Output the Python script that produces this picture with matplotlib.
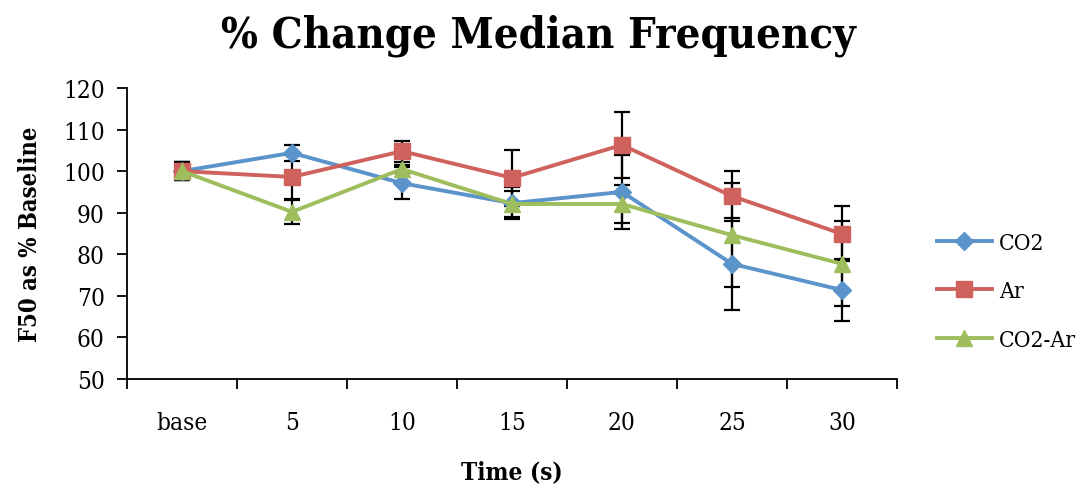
import matplotlib
matplotlib.use("Agg")
import matplotlib.pyplot as plt
import numpy as np

categories = ["base", "5", "10", "15", "20", "25", "30"]
co2 = [100.0, 104.4, 97.1, 92.3, 95.0, 77.7, 71.4]
co2_err = [2.2, 1.9, 3.8, 3.8, 8.9, 11.1, 7.4]
ar = [100.0, 98.6, 104.8, 98.4, 106.3, 94.0, 84.9]
ar_err = [2.2, 5.2, 2.5, 6.8, 7.9, 6.1, 6.6]
co2ar = [100.0, 90.2, 100.5, 92.1, 92.1, 84.6, 77.7]
co2ar_err = [2.2, 2.8, 1.0, 3.2, 4.6, 12.5, 10.2]
series_names = ["CO2", "Ar", "CO2-Ar"]
yticks = [50, 60, 70, 80, 90, 100, 110, 120]

serif = ["DejaVu Serif"]
cond = "condensed"
fig = plt.figure(figsize=(10.88, 4.89), dpi=100)
ax = fig.add_axes([0.1167, 0.2229, 0.7077, 0.5951])

x = np.arange(len(categories))
colors = ["#5B93CB", "#CF625D", "#9EBE5D"]
markers = ["D", "s", "^"]
msizes = [9, 12, 12]
data = [(co2, co2_err), (ar, ar_err), (co2ar, co2ar_err)]
for (vals, err), c, m, ms, name in zip(data, colors, markers, msizes, series_names):
    ax.errorbar(x, vals, yerr=err, fmt="none", ecolor="black", elinewidth=1.6,
                capsize=5.5, capthick=1.6, zorder=2)
    ax.plot(x, vals, color=c, lw=2.8, marker=m, ms=ms, mec=c, mfc=c, label=name, zorder=3)

ax.set_xlim(-0.5, len(categories) - 0.5)
ax.set_ylim(50, 120)
ax.set_yticks(yticks)
ax.set_yticklabels([str(t) for t in yticks], fontfamily=serif, fontstretch=cond, fontsize=17.5)
ax.set_xticks(np.arange(len(categories) + 1) - 0.5)
ax.set_xticklabels([])
ax.set_xticks(x, minor=True)
ax.set_xticklabels(categories, minor=True, fontfamily=serif, fontstretch=cond, fontsize=17.5)
ax.tick_params(axis="x", which="minor", length=0, pad=23)
ax.tick_params(axis="x", which="major", length=7, width=1.3, direction="out")
ax.tick_params(axis="y", which="major", length=7, width=1.3, direction="out", pad=9)
for s in ["top", "right"]:
    ax.spines[s].set_visible(False)
for s in ["left", "bottom"]:
    ax.spines[s].set_linewidth(1.3)

fig.text(0.4945, 0.927, "% Change Median Frequency", ha="center", va="center",
         fontfamily=serif, fontstretch=cond, fontweight="bold", fontsize=31.2)
ax.set_ylabel("F50 as % Baseline", fontfamily=serif, fontstretch=cond,
              fontweight="bold", fontsize=17, labelpad=15)
ax.set_xlabel("Time (s)", fontfamily=serif, fontstretch=cond,
              fontweight="bold", fontsize=17.5, labelpad=18)

leg = fig.legend(loc="center left", bbox_to_anchor=(0.861, 0.402), frameon=False,
                 prop={"family": serif, "stretch": cond, "size": 16.5},
                 handlelength=2.4, labelspacing=1.15, handletextpad=0.3,
                 borderaxespad=0, borderpad=0)

fig.savefig("out.png", dpi=100)
